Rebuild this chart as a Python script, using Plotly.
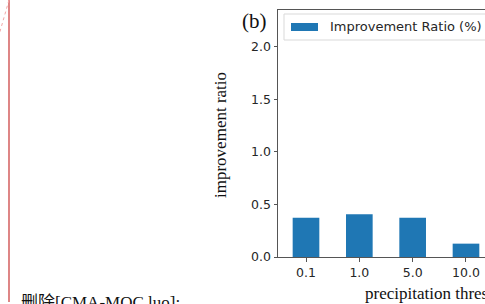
import plotly.graph_objects as go

# Data
categories = ["0.1", "1.0", "5.0", "10.0"]
improvement_ratio = [0.374, 0.406, 0.374, 0.127]
y_ticks = [0.0, 0.5, 1.0, 1.5, 2.0]
legend_label = "Improvement Ratio (%)"
y_title = "improvement ratio"
x_title = "precipitation threshold"
panel_label = "(b)"
side_note = "删除[CMA-MOC luo]:"

W, H = 485, 304
L, R, T, B = 278, 0, 10, 47
PW, PH = W - L - R, H - T - B


def px_x(p):
    return (p - L) / PW


def px_y(p):
    return (H - B - p) / PH


fig = go.Figure()
fig.add_trace(go.Bar(
    x=categories, y=improvement_ratio, width=0.5,
    marker=dict(color="#1f77b4", line=dict(width=0)),
    showlegend=False,
))

axis_col = "#555555"
text_col = "#262626"
tick_font = dict(family="DejaVu Sans", size=12.5, color=text_col)
serif = "Liberation Serif, Noto Sans CJK SC"

fig.update_layout(
    width=W, height=H,
    margin=dict(l=L, r=R, t=T, b=B, pad=0),
    paper_bgcolor="white", plot_bgcolor="white",
    bargap=0.5,
    xaxis=dict(
        type="category", range=[-0.525, -0.525 + PW / 53.33],
        showgrid=False, zeroline=False,
        showline=True, linecolor=axis_col, linewidth=1, mirror=True,
        ticks="outside", ticklen=3.5, tickcolor=axis_col, tickwidth=1,
        tickfont=tick_font,
    ),
    yaxis=dict(
        range=[0, 2.35], tickvals=y_ticks, tickformat=".1f",
        showgrid=False, zeroline=False,
        showline=True, linecolor=axis_col, linewidth=1, mirror=True,
        ticks="outside", ticklen=3.5, tickcolor=axis_col, tickwidth=1,
        tickfont=tick_font,
    ),
)

shapes = [
    # legend frame
    dict(type="rect", xref="paper", yref="paper",
         x0=px_x(284), x1=px_x(520), y0=px_y(40), y1=px_y(14),
         line=dict(color="#d9d9d9", width=1), fillcolor="rgba(255,255,255,0.8)"),
    # legend patch
    dict(type="rect", xref="paper", yref="paper",
         x0=px_x(291), x1=px_x(318), y0=px_y(31), y1=px_y(23),
         line=dict(width=0), fillcolor="#1f77b4"),
    # red margin line
    dict(type="line", xref="paper", yref="paper",
         x0=px_x(9), x1=px_x(9), y0=px_y(0), y1=px_y(302),
         line=dict(color="#cc4444", width=1.3)),
    dict(type="line", xref="paper", yref="paper",
         x0=px_x(9), x1=px_x(-1), y0=px_y(0), y1=px_y(35),
         line=dict(color="#f2a8a8", width=1, dash="dot")),
]

annotations = [
    dict(text=legend_label, xref="paper", yref="paper",
         x=px_x(328), y=px_y(27), xanchor="left", yanchor="middle",
         showarrow=False, font=dict(family="DejaVu Sans", size=13, color=text_col)),
    dict(text=panel_label, xref="paper", yref="paper",
         x=px_x(254), y=px_y(21), xanchor="center", yanchor="middle",
         showarrow=False, font=dict(family=serif, size=21, color="#111111")),
    dict(text=y_title, xref="paper", yref="paper",
         x=px_x(220), y=px_y(135), xanchor="center", yanchor="middle",
         textangle=-90, showarrow=False,
         font=dict(family=serif, size=17, color="#111111")),
    dict(text=x_title, xref="paper", yref="paper",
         x=px_x(363), y=px_y(293), xanchor="left", yanchor="middle",
         showarrow=False, font=dict(family=serif, size=17, color="#111111")),
    dict(text=side_note, xref="paper", yref="paper",
         x=px_x(19), y=px_y(302), xanchor="left", yanchor="middle",
         showarrow=False, font=dict(family=serif, size=17, color="#111111")),
]

fig.update_layout(shapes=shapes, annotations=annotations)

fig.write_html("out.html", config={"displayModeBar": False},
               post_script="document.body.style.margin='0';")
